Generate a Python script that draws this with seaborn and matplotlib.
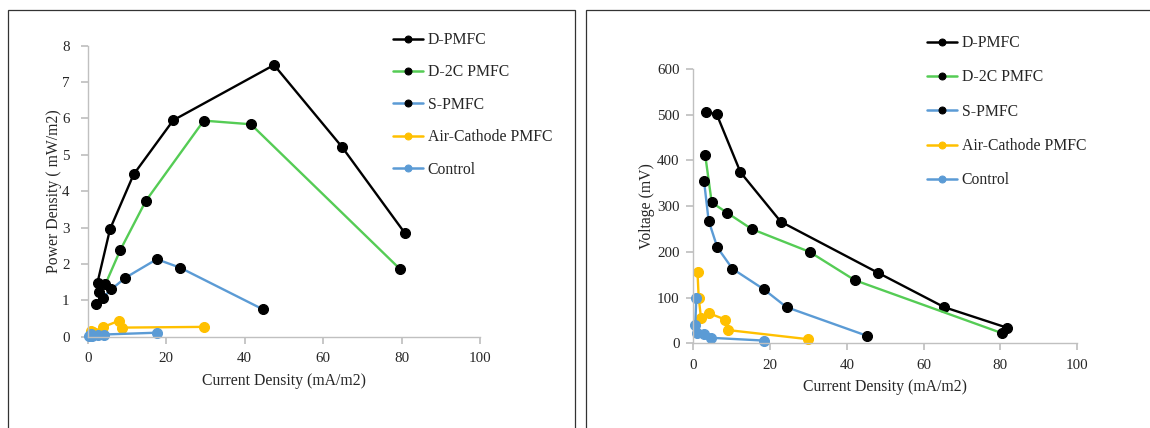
import matplotlib
matplotlib.use("Agg")
import matplotlib.pyplot as plt
import seaborn as sns
import pandas as pd
from matplotlib.patches import Rectangle

sns.set_theme(style="white")
plt.rcParams['font.family'] = ['Liberation Serif', 'DejaVu Serif']

series = ["D-PMFC", "D-2C PMFC", "S-PMFC", "Air-Cathode PMFC", "Control"]
line_colors = ["#000000", "#55cc55", "#5b9bd5", "#ffc000", "#5b9bd5"]
marker_colors = ["#000000", "#000000", "#000000", "#ffc000", "#5b9bd5"]

# Left panel: power density vs current density
pd_current = {
    "D-PMFC": [2.5, 5.7, 11.7, 21.8, 47.5, 64.8, 80.9],
    "D-2C PMFC": [3.0, 4.5, 8.3, 14.8, 29.6, 41.6, 79.7],
    "S-PMFC": [2.1, 3.8, 6.0, 9.6, 17.6, 23.5, 44.7],
    "Air-Cathode PMFC": [0.8, 1.3, 1.9, 3.8, 8.0, 8.8, 29.6],
    "Control": [0.4, 0.8, 1.0, 2.7, 4.1, 17.6],
}
pd_power = {
    "D-PMFC": [1.49, 2.96, 4.46, 5.95, 7.47, 5.22, 2.84],
    "D-2C PMFC": [1.24, 1.44, 2.38, 3.73, 5.94, 5.84, 1.85],
    "S-PMFC": [0.90, 1.07, 1.30, 1.62, 2.13, 1.90, 0.75],
    "Air-Cathode PMFC": [0.15, 0.14, 0.11, 0.26, 0.44, 0.25, 0.27],
    "Control": [0.02, 0.08, 0.02, 0.06, 0.06, 0.11],
}

# Right panel: voltage vs current density
v_current = {
    "D-PMFC": [3.2, 6.1, 12.3, 22.8, 48.2, 65.4, 81.8],
    "D-2C PMFC": [3.1, 4.8, 8.9, 15.2, 30.3, 42.1, 80.5],
    "S-PMFC": [2.8, 4.0, 6.25, 10.2, 18.4, 24.3, 45.4],
    "Air-Cathode PMFC": [1.1, 1.4, 2.0, 4.0, 8.3, 9.0, 29.9],
    "Control": [0.8, 0.5, 1.0, 2.7, 4.7, 18.3],
}
v_voltage = {
    "D-PMFC": [506, 501, 374, 266, 154, 79, 34],
    "D-2C PMFC": [412, 308, 285, 250, 200, 138, 22],
    "S-PMFC": [355, 268, 210, 163, 118, 79, 16],
    "Air-Cathode PMFC": [155, 100, 56, 66, 52, 29, 9],
    "Control": [100, 40, 23, 20, 12, 6],
}

fig = plt.figure(figsize=(11.5, 4.28), dpi=100)
fig.patch.set_facecolor("white")

# panel frames
fig.patches.append(Rectangle((8 / 1150, -0.05), (575 - 8) / 1150, 1 - 10 / 428 + 0.05,
                             transform=fig.transFigure, fill=False, edgecolor="#333333", lw=0.9))
fig.patches.append(Rectangle((586 / 1150, -0.05), (1160 - 586) / 1150, 1 - 10 / 428 + 0.05,
                             transform=fig.transFigure, fill=False, edgecolor="#333333", lw=0.9))

ax1 = fig.add_axes([87.7 / 1150, 1 - 336.7 / 428, (480 - 87.7) / 1150, (336.7 - 45.7) / 428])
ax2 = fig.add_axes([693.3 / 1150, 1 - 343.3 / 428, (1077 - 693.3) / 1150, (343.3 - 69) / 428])

FS = 11.3


def draw(ax, xs, ys, ypad):
    for s, lc, mc in zip(series, line_colors, marker_colors):
        df = pd.DataFrame({"x": xs[s], "y": ys[s]})
        sns.lineplot(data=df, x="x", y="y", ax=ax, sort=False, estimator=None,
                     color=lc, lw=1.7, marker="o", markersize=7.2,
                     markerfacecolor=mc, markeredgecolor=mc, label=s, clip_on=False)
    ax.set_xlim(0, 100)
    ax.set_xticks(range(0, 101, 20))
    for side in ["top", "right"]:
        ax.spines[side].set_visible(False)
    for side in ["left", "bottom"]:
        ax.spines[side].set_color("#c0c0c0")
        ax.spines[side].set_linewidth(1.0)
    ax.tick_params(axis="x", direction="out", length=5, color="#c0c0c0", labelsize=10.8,
                   pad=6, bottom=True)
    ax.tick_params(axis="y", direction="out", length=5, color="#c0c0c0", labelsize=10.8,
                   pad=ypad, left=True)
    ax.set_facecolor("none")
    ax.grid(False)
    ax.get_legend().remove()


draw(ax1, pd_current, pd_power, 8)
ax1.set_ylim(0, 8)
ax1.set_yticks(range(0, 9))
ax1.set_xlabel("Current Density (mA/m2)", fontsize=FS, labelpad=6)
ax1.set_ylabel("Power Density ( mW/m2)", fontsize=FS, labelpad=0)

draw(ax2, v_current, v_voltage, 5)
ax2.set_ylim(0, 600)
ax2.set_yticks(range(0, 601, 100))
ax2.set_xlabel("Current Density (mA/m2)", fontsize=FS, labelpad=5)
ax2.set_ylabel("Voltage (mV)", fontsize=FS, labelpad=1)


def add_legend(ax, x, y, spacing):
    h, l = ax.get_legend_handles_labels()
    leg = fig.legend(h, l, loc="upper left", bbox_to_anchor=(x / 1150, 1 - y / 428),
                     frameon=False, fontsize=FS, labelspacing=spacing, handlelength=1.9,
                     handletextpad=0.3, borderaxespad=0, borderpad=0)
    for lh in leg.legend_handles:
        lh.set_markersize(5)
        lh.set_linewidth(1.8)
    return leg


add_legend(ax1, 393, 32, 1.05)
add_legend(ax2, 927, 35, 1.17)

fig.savefig("out.png", dpi=100, facecolor="white")
